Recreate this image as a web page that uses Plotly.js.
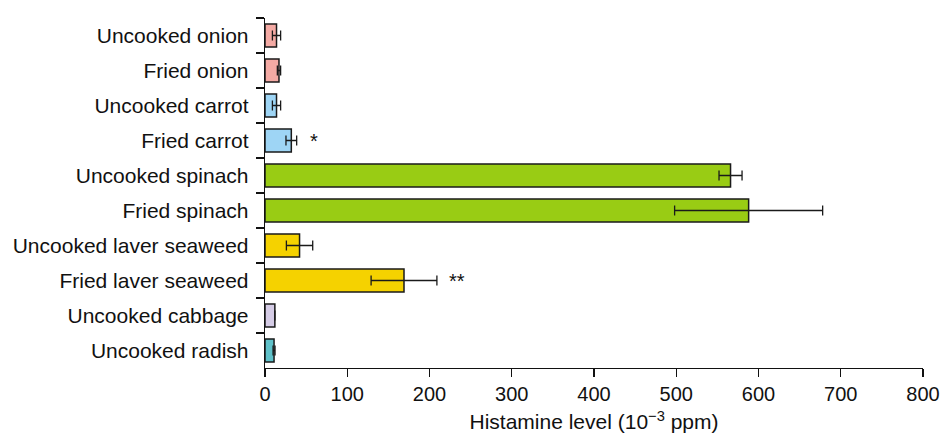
<!DOCTYPE html>
<html>
<head>
<meta charset="utf-8">
<script src="https://cdn.plot.ly/plotly-3.0.1.min.js"></script>
<style>html,body{margin:0;padding:0;background:#fff;}#chart{width:944px;height:437px;}</style>
</head>
<body>
<div id="chart"></div>
<script>
var categories = ["Uncooked onion","Fried onion","Uncooked carrot","Fried carrot","Uncooked spinach","Fried spinach","Uncooked laver seaweed","Fried laver seaweed","Uncooked cabbage","Uncooked radish"];
var values = [14, 17, 14, 32, 566, 588, 42, 169, 12, 11];
var errors = [5, 2, 5, 6.5, 14, 90, 16, 40, 0, 1.2];
var barColors = ["#f4aaa4","#f4aaa4","#9ed5f5","#9ed5f5","#99cc14","#99cc14","#f5d200","#f5d200","#d5cce6","#5fc1c9"];
var marks = [{cat:"Fried carrot", x: 59, text:"*"},{cat:"Fried laver seaweed", x: 234, text:"**"}];

var font = "Liberation Sans, Arial, sans-serif";
var trace = {
  type: "bar",
  orientation: "h",
  y: categories,
  x: values,
  width: 0.66,
  marker: {color: barColors, line: {color: "#1a1a1a", width: 1.5}},
  error_x: {type: "data", array: errors, visible: true, color: "#1a1a1a", thickness: 1.3, width: 5},
  hoverinfo: "none"
};
var layout = {
  width: 944, height: 437,
  margin: {l: 265, r: 21, t: 18, b: 69},
  paper_bgcolor: "#fff", plot_bgcolor: "#fff",
  showlegend: false,
  font: {family: font, size: 20, color: "#111"},
  xaxis: {
    range: [0, 800], tickvals: [0,100,200,300,400,500,600,700,800],
    ticks: "outside", ticklen: 8, tickwidth: 1.3, tickcolor: "#111",
    showline: true, linecolor: "#111", linewidth: 1.3,
    showgrid: false, zeroline: false,
    tickfont: {family: font, size: 20, color: "#111"},
    title: {text: "Histamine level (10<sup>−3</sup> ppm)", font: {family: font, size: 21, color: "#111"}, standoff: 10}
  },
  yaxis: {
    type: "category", categoryorder: "array", categoryarray: categories,
    range: [9.5, -0.5],
    ticks: "outside", tickson: "boundaries", ticklen: 8, tickwidth: 1.3, tickcolor: "#111",
    showline: true, linecolor: "#111", linewidth: 1.3,
    showgrid: false, zeroline: false,
    ticklabelstandoff: 11,
    tickfont: {family: font, size: 21, color: "#111"}
  },
  annotations: marks.map(function(m){ return {x: m.x, y: m.cat, xref: "x", yref: "y", text: m.text, showarrow: false, font: {family: font, size: 20, color: "#111"}, xanchor: "center", yanchor: "middle"}; })
};
Plotly.newPlot("chart", [trace], layout, {displayModeBar: false, staticPlot: true});
</script>
</body>
</html>
